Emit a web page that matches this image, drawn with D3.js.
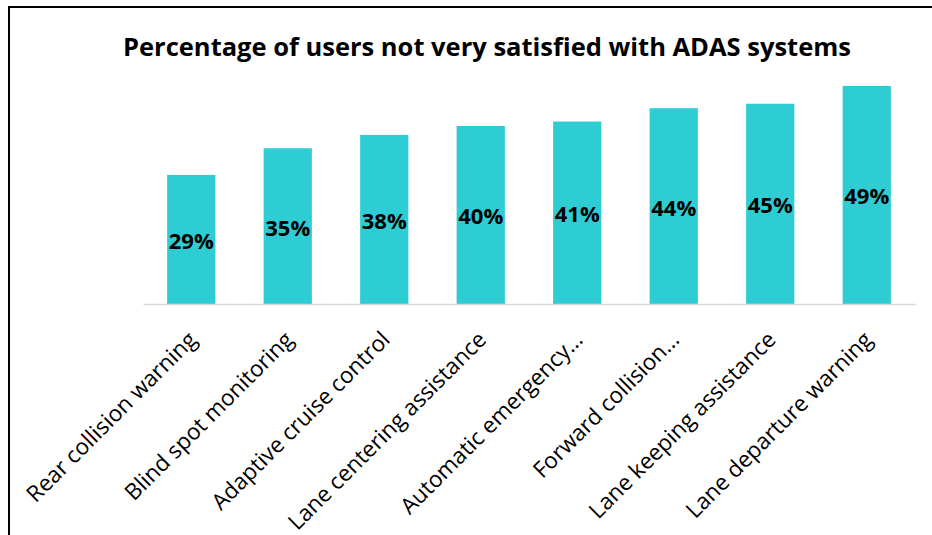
<!DOCTYPE html>
<html>
<head>
<meta charset="utf-8">
<script src="https://cdn.jsdelivr.net/npm/d3@7"></script>
<style>
  html, body { margin: 0; padding: 0; background: #fff; }
  svg { display: block; }
</style>
</head>
<body>
<svg id="chart" width="932" height="535"></svg>
<script>
const titleText = "Percentage of users not very satisfied with ADAS systems";
const categories = [
  "Rear collision warning",
  "Blind spot monitoring",
  "Adaptive cruise control",
  "Lane centering assistance",
  "Automatic emergency…",
  "Forward collision…",
  "Lane keeping assistance",
  "Lane departure warning"
];
const values = [29, 35, 38, 40, 41, 44, 45, 49];

const W = 932, H = 535;
const font = "'Open Sans', 'Noto Sans', sans-serif";
const barColor = "#2ECCD3";

const svg = d3.select("#chart");

// outer chart border (top and left visible)
svg.append("rect")
  .attr("x", 9).attr("y", 7)
  .attr("width", W + 20).attr("height", H + 20)
  .attr("fill", "none")
  .attr("stroke", "#000")
  .attr("stroke-width", 2);

const plot = { left: 143, right: 915, baseline: 304 };

const x = d3.scaleBand()
  .domain(categories)
  .range([plot.left, plot.right])
  .paddingInner(0.5)
  .paddingOuter(0.25);

const y = d3.scaleLinear()
  .domain([0, 50])
  .range([plot.baseline, plot.baseline - 4.45 * 50]);

// title
svg.append("text")
  .attr("x", 487).attr("y", 56)
  .attr("text-anchor", "middle")
  .attr("font-family", font)
  .attr("font-weight", "bold")
  .attr("font-size", 25.5)
  .attr("fill", "#000")
  .text(titleText);

// bars
const data = categories.map((c, i) => ({ c, v: values[i] }));
svg.append("g").selectAll("rect")
  .data(data)
  .join("rect")
  .attr("x", d => x(d.c))
  .attr("y", d => y(d.v))
  .attr("width", x.bandwidth())
  .attr("height", d => y(0) - y(d.v))
  .attr("fill", barColor);

// x axis
const xAxis = d3.axisBottom(x).tickSize(0).tickPadding(0);
const gx = svg.append("g")
  .attr("transform", `translate(0,${plot.baseline})`)
  .call(xAxis);
gx.select(".domain")
  .attr("stroke", "#d9d9d9")
  .attr("stroke-width", 1.5);
gx.selectAll(".tick text")
  .attr("font-family", font)
  .attr("font-size", 22.5)
  .attr("fill", "#000")
  .attr("text-anchor", "end")
  .attr("dy", null)
  .attr("y", null)
  .attr("transform", "translate(7,37) rotate(-45)");

// value labels
svg.append("g").selectAll("text")
  .data(data)
  .join("text")
  .attr("x", d => x(d.c) + x.bandwidth() / 2)
  .attr("y", d => (y(d.v) + y(0)) / 2 + 1.5)
  .attr("dy", "0.36em")
  .attr("text-anchor", "middle")
  .attr("font-family", font)
  .attr("font-weight", "bold")
  .attr("font-size", 22)
  .attr("fill", "#000")
  .text(d => d.v + "%");
</script>
</body>
</html>
